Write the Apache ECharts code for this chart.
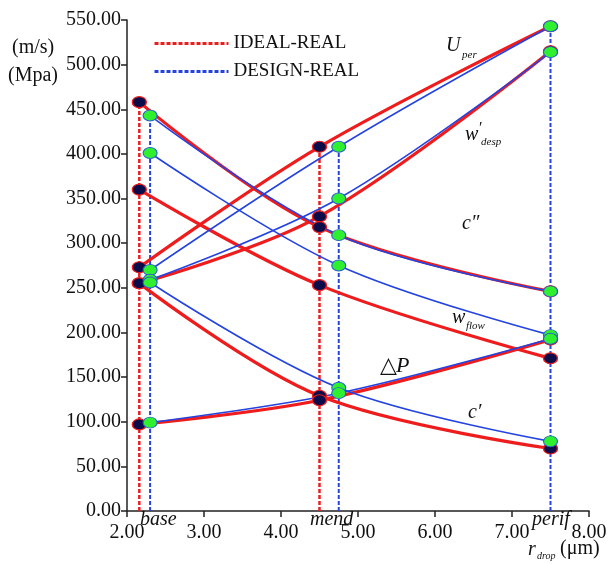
<!DOCTYPE html>
<html><head><meta charset="utf-8">
<script src="https://cdn.jsdelivr.net/npm/echarts@6/dist/echarts.min.js"></script>
<style>html,body{margin:0;padding:0;background:#fff}#c{width:612px;height:564px}</style>
</head><body><div id="c"></div>
<script>
// positions along the drop radius (µm)
const xIdeal = [2.16, 4.5, 7.5];
const xDesign = [2.3, 4.75, 7.5];
const curveNames = ['U_per', "w'_desp", "c''", 'w_flow', "c'", 'dP'];
// IDEAL-REAL values
const idealUper  = [273, 408, 543];
const idealWdesp = [255, 330, 515];
const idealC2    = [458, 318, 246];
const idealWflow = [360, 253, 171];
const idealC1    = [255, 129, 70];
const idealDP    = [97, 124, 192];
// DESIGN-REAL values
const designUper  = [270, 408, 543];
const designWdesp = [259, 350, 514];
const designC2    = [443, 309, 246];
const designWflow = [401, 275, 197];
const designC1    = [256, 138, 78];
const designDP    = [99, 132, 193];
const xTicks = [2, 3, 4, 5, 6, 7, 8];
const yTicks = [0, 50, 100, 150, 200, 250, 300, 350, 400, 450, 500, 550];

const idealSets = [idealUper, idealWdesp, idealC2, idealWflow, idealC1, idealDP];
const designSets = [designUper, designWdesp, designC2, designWflow, designC1, designDP];

const RED = '#ee1c1c', BLUE = '#2443e0';
const SERIF = '"Liberation Serif","DejaVu Serif",serif';

function pts(xs, ys){ return xs.map((x,i)=>[x, ys[i]]); }
function vlines(xs, sets){
  // vertical guide from 0 to the highest point at each position
  return xs.map((x,i)=>{ const top = Math.max(...sets.map(s=>s[i])); return [[x,0],[x,top]]; });
}

const series = [];
const idealV = vlines(xIdeal.slice(0,2), idealSets);
const designV = vlines(xDesign, designSets);
idealV.forEach(seg=>series.push({name:'IDEAL-REAL', type:'line', data:seg, symbol:'none', z:1,
  itemStyle:{color:'rgba(0,0,0,0)'},
  lineStyle:{color:RED, width:2.5, type:[4,2]}, silent:true}));
designV.forEach(seg=>series.push({name:'DESIGN-REAL', type:'line', data:seg, symbol:'none', z:1,
  itemStyle:{color:'rgba(0,0,0,0)'},
  lineStyle:{color:BLUE, width:2, type:[4,2]}, silent:true}));
idealSets.forEach((s,k)=>series.push({name:'IDEAL-REAL', type:'line', data:pts(xIdeal,s), smooth:0.35, symbol:'none', z:2,
  lineStyle:{color:RED, width:3.2}}));
designSets.forEach((s,k)=>series.push({name:'DESIGN-REAL', type:'line', data:pts(xDesign,s), smooth:0.35, symbol:'none', z:3,
  lineStyle:{color:BLUE, width:1.6}}));
series.push({name:'IDEAL-REAL', type:'scatter', z:5, symbol:'circle', symbolSize:[14,11],
  data:idealSets.flatMap(s=>pts(xIdeal,s)), itemStyle:{color:'#0c0c4a', borderColor:RED, borderWidth:1.2, opacity:1}});
series.push({name:'DESIGN-REAL', type:'scatter', z:6, symbol:'circle', symbolSize:[14,11],
  data:designSets.flatMap(s=>pts(xDesign,s)), itemStyle:{color:'#2ef02e', borderColor:'#2a5fd0', borderWidth:1, opacity:1}});

function t(x,y,text,opt){ return Object.assign({type:'text', left:x, top:y, z:20,
  style:Object.assign({text:text, font:'20px '+SERIF, fill:'#111'}, opt||{})}); }
function it(x,y,text,size){ return t(x,y,text,{font:'italic '+(size||20)+'px '+SERIF}); }

const graphics = [
  t(12,38,'(m/s)'), t(8,66,'(Mpa)'),
  it(446,36,'U'), it(462,50,'per',11),
  it(465,125,'w'), it(478,121,'′',16), it(481,137,'desp',11),
  it(462,214,'c″'),
  it(452,308,'w'), it(466,321,'flow',11),
  t(380,355,'△',{font:'22px '+SERIF}), it(396,355,'P',22),
  it(468,403,'c′'),
  it(140,510,'base'), it(310,510,'mend'), it(532,510,'perif'),
  it(528,540,'r'), it(537,551,'drop',10), t(560,539,'(μm)')
];

const chart = echarts.init(document.getElementById('c'));
chart.setOption({
  animation:false,
  backgroundColor:'#fff',
  grid:{left:127, right:23, top:20, bottom:53},
  legend:{left:148, top:29, orient:'vertical', itemGap:9, itemWidth:74, itemHeight:14,
    data:['IDEAL-REAL','DESIGN-REAL'],
    lineStyle:{width:3},
    itemStyle:{color:'rgba(0,0,0,0)', borderColor:'rgba(0,0,0,0)', borderWidth:0},
    textStyle:{fontFamily:SERIF, fontSize:19, color:'#111'}},
  xAxis:{type:'value', min:xTicks[0], max:xTicks[xTicks.length-1], interval:1,
    axisLine:{show:true, lineStyle:{color:'#222', width:1.5}},
    axisTick:{show:true, length:6, lineStyle:{color:'#222', width:1.5}},
    splitLine:{show:false},
    axisLabel:{formatter:v=>v.toFixed(2), fontFamily:SERIF, fontSize:20, color:'#111', margin:12}},
  yAxis:{type:'value', min:yTicks[0], max:yTicks[yTicks.length-1], interval:50,
    axisLine:{show:true, lineStyle:{color:'#222', width:1.5}},
    axisTick:{show:true, length:6, lineStyle:{color:'#222', width:1.5}},
    splitLine:{show:false},
    axisLabel:{formatter:v=>v.toFixed(2), fontFamily:SERIF, fontSize:20, color:'#111', margin:6}},
  series: series,
  graphic: graphics
});
</script></body></html>
